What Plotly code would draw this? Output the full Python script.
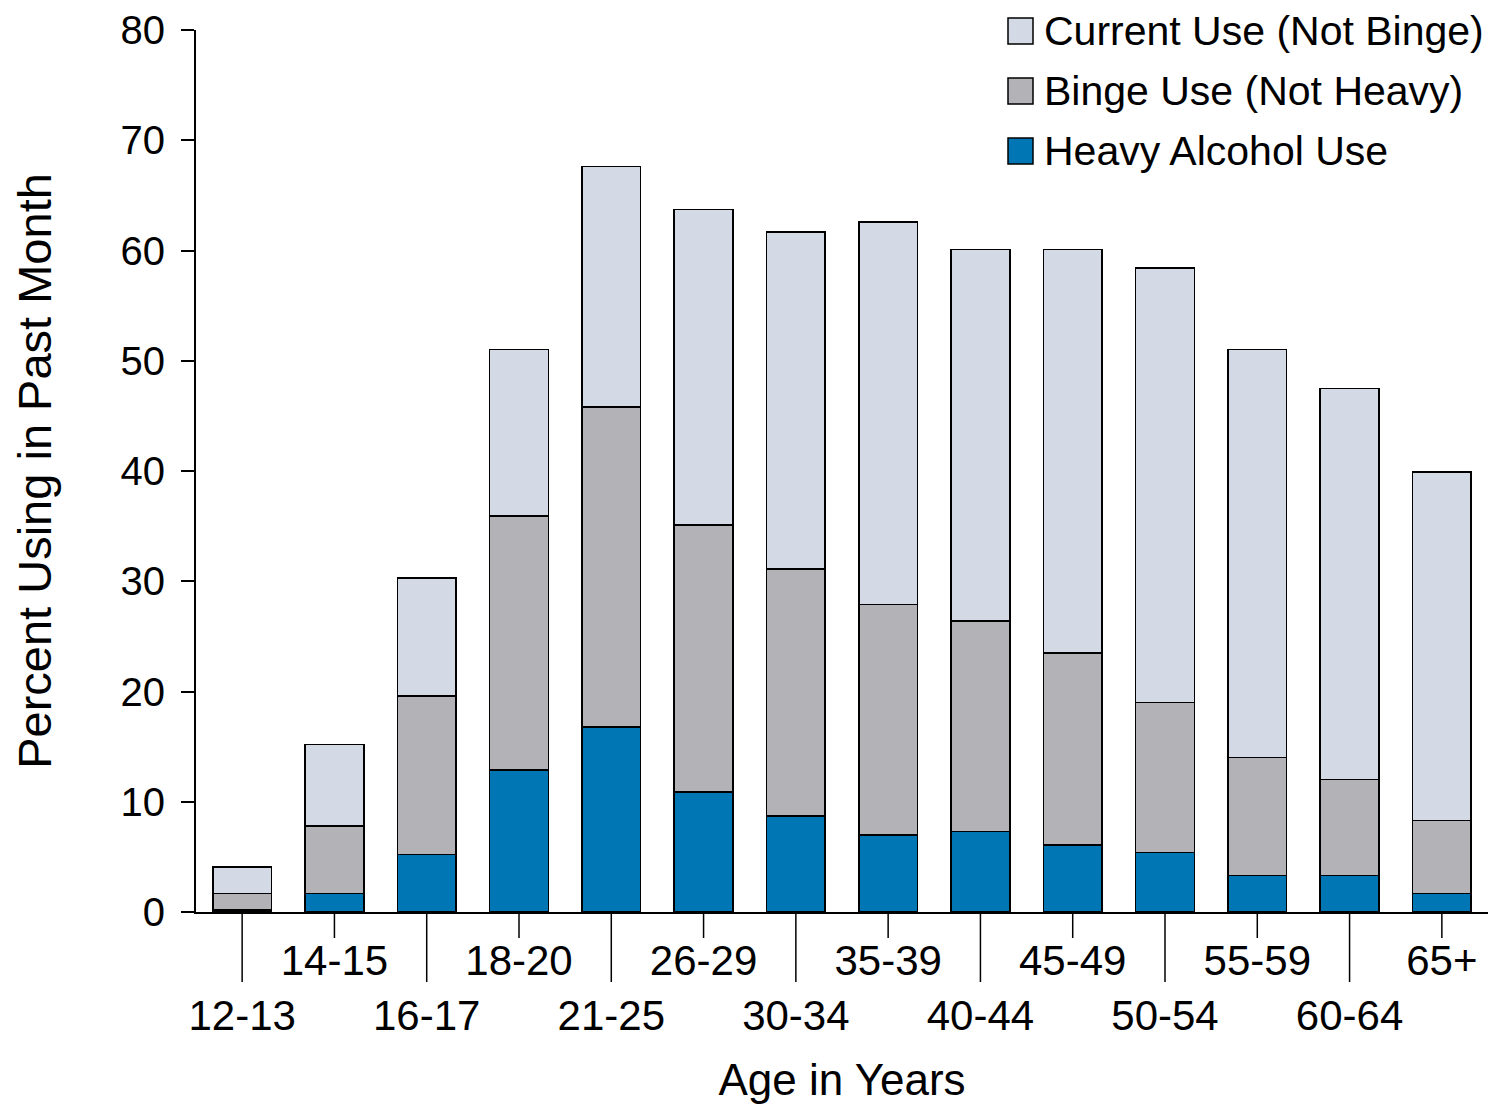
import plotly.graph_objects as go

categories = ["12-13", "14-15", "16-17", "18-20", "21-25", "26-29", "30-34",
              "35-39", "40-44", "45-49", "50-54", "55-59", "60-64", "65+"]
heavy = [0.2, 1.7, 5.2, 12.9, 16.8, 10.9, 8.7, 7.0, 7.3, 6.1, 5.4, 3.3, 3.3, 1.7]
binge_not_heavy = [1.5, 6.1, 14.4, 23.0, 29.0, 24.2, 22.4, 20.9, 19.1, 17.4, 13.6, 10.7, 8.7, 6.6]
current_not_binge = [2.4, 7.4, 10.7, 15.1, 21.8, 28.6, 30.6, 34.7, 33.7, 36.6, 39.4, 37.0, 35.5, 31.6]
y_ticks = [0, 10, 20, 30, 40, 50, 60, 70, 80]

FONT = "Arial, Liberation Sans, sans-serif"
W, H = 1485, 1096
ML, MR, MT, MB = 188, 5, 22, 192
PW, PH = W - ML - MR, H - MT - MB

fig = go.Figure()
series = [
    ("Heavy Alcohol Use", heavy, "#0077B4"),
    ("Binge Use (Not Heavy)", binge_not_heavy, "#B2B2B7"),
    ("Current Use (Not Binge)", current_not_binge, "#D3DAE6"),
]
for name, vals, col in series:
    fig.add_trace(go.Bar(
        x=categories, y=vals, name=name, showlegend=False,
        marker=dict(color=col, line=dict(color="#000000", width=1.5)),
    ))

# custom legend (top-down order: current, binge, heavy)
leg_rows = list(reversed(series))
for k, (name, vals, col) in enumerate(leg_rows):
    cy = 23 + k * 60  # row centre in figure px from top
    y_c = (H - MB - cy) / PH
    x0 = (1000 - ML) / PW
    x1 = (1025 - ML) / PW
    half = 13 / PH
    fig.add_shape(type="rect", xref="paper", yref="paper",
                  x0=x0, x1=x1, y0=y_c - half, y1=y_c + half,
                  fillcolor=col, line=dict(color="#000000", width=1.5))
    fig.add_annotation(xref="paper", yref="paper", x=(1035 - ML) / PW, y=y_c,
                       text=name, showarrow=False, xanchor="left", yanchor="middle",
                       borderpad=0,
                       font=dict(size=41, family=FONT, color="#000000"))

# alternate two-row tick labels
ticktext = [c if i % 2 == 1 else "<br>" + c for i, c in enumerate(categories)]

# tick lines: long for bottom-row labels, short for top-row labels
for i, c in enumerate(categories):
    length = 70 if i % 2 == 0 else 26
    fig.add_shape(type="line", xref="x", yref="paper",
                  x0=c, x1=c, y0=0, y1=-length / PH,
                  line=dict(color="#000000", width=1.5))

fig.update_layout(
    width=W, height=H,
    margin=dict(l=ML, r=MR, t=MT, b=MB, autoexpand=False),
    paper_bgcolor="white", plot_bgcolor="white",
    barmode="stack", bargap=0.364,
    font=dict(family=FONT, size=40, color="#000000"),
    showlegend=False,
    xaxis=dict(
        type="category", range=[-0.5, 13.5],
        tickmode="array", tickvals=categories, ticktext=ticktext, tickangle=0,
        ticks="", ticklabelstandoff=11,
        showline=True, linecolor="#000000", linewidth=2,
        showgrid=False, zeroline=False,
        tickfont=dict(size=42, family=FONT),
        title=dict(text="Age in Years", font=dict(size=44, family=FONT), standoff=43),
        automargin=False,
    ),
    yaxis=dict(
        range=[0, 80], tickmode="array", tickvals=y_ticks,
        ticks="outside", ticklen=13, tickwidth=1.5, tickcolor="#000000",
        showline=True, linecolor="#000000", linewidth=2,
        showgrid=False, zeroline=False,
        tickfont=dict(size=40, family=FONT),
        ticklabelstandoff=8,
        title=dict(text="Percent Using in Past Month", font=dict(size=47, family=FONT), standoff=62),
        automargin=False,
    ),
)

fig.write_html("out.html")
